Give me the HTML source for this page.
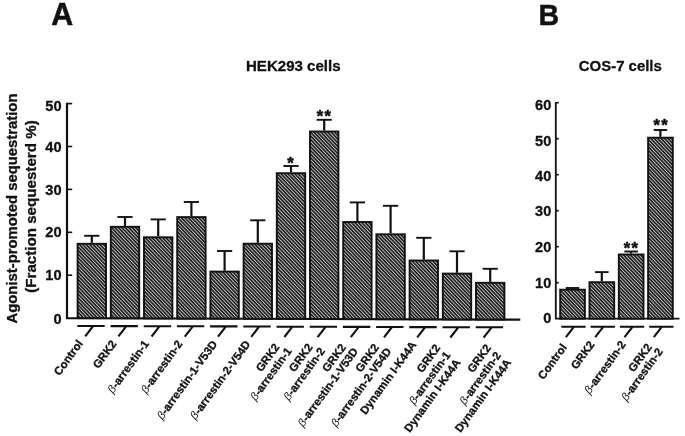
<!DOCTYPE html>
<html><head><meta charset="utf-8"><title>Figure</title>
<style>
html,body{margin:0;padding:0;background:#fff;}
body{width:685px;height:436px;overflow:hidden;}
svg{display:block}
text{font-family:"Liberation Sans",sans-serif;font-weight:bold;fill:#111;}
.t{stroke:#111;stroke-width:0.3px}
.b{font-weight:normal;font-style:italic;stroke:none}
.ax{stroke:#111;fill:none}
</style></head><body>
<svg width="685" height="436" viewBox="0 0 685 436">
<defs>
<pattern id="h" width="2.5" height="2.5" patternUnits="userSpaceOnUse" patternTransform="rotate(46.5)">
<rect width="2.5" height="2.5" fill="#c6c6c6"/><rect width="2.5" height="1.5" fill="#111"/>
</pattern>
</defs>
<rect width="685" height="436" fill="#fff"/>

<text transform="translate(51.2,24.7) scale(1.02,1.07)" font-size="29.8" stroke="#111" stroke-width="0.5">A</text>
<text transform="translate(538.4,25.2) scale(1.0,1.055)" font-size="28.6" stroke="#111" stroke-width="0.4">B</text>
<text class="t" x="246.0" y="70.8" font-size="15.05">HEK293 cells</text>
<text class="t" x="578.8" y="71.1" font-size="14.95">COS-7 cells</text>
<text class="t" transform="translate(17.3,323.5) rotate(-90)" font-size="14.4" textLength="230" lengthAdjust="spacingAndGlyphs">Agonist-promoted sequestration</text>
<text class="t" transform="translate(36.1,292.8) rotate(-90)" font-size="14.4" textLength="172.5" lengthAdjust="spacingAndGlyphs">(Fraction sequesterd %)</text>
<path class="ax" stroke-width="2.2" stroke-linejoin="miter" d="M67 102.80000000000003V318.1L520.3 319.64"/>
<text class="t" x="61.5" y="324.3" font-size="14.6" text-anchor="end">0</text>
<path class="ax" stroke-width="1.6" d="M67 275.2h5.2"/>
<text class="t" x="61.5" y="279.6" font-size="14.6" text-anchor="end">10</text>
<path class="ax" stroke-width="1.6" d="M67 232.3h5.2"/>
<text class="t" x="61.5" y="236.5" font-size="14.6" text-anchor="end">20</text>
<path class="ax" stroke-width="1.6" d="M67 189.4h5.2"/>
<text class="t" x="61.5" y="195.3" font-size="14.6" text-anchor="end">30</text>
<path class="ax" stroke-width="1.6" d="M67 146.5h5.2"/>
<text class="t" x="61.5" y="152.4" font-size="14.6" text-anchor="end">40</text>
<path class="ax" stroke-width="1.6" d="M67 103.6h5.2"/>
<text class="t" x="61.5" y="110.5" font-size="14.6" text-anchor="end">50</text>
<rect x="77.6" y="243.8" width="28.4" height="74.3" fill="url(#h)" stroke="#111" stroke-width="1.9"/>
<path class="ax" stroke-width="2.2" d="M91.8 242.9V235.8"/><path class="ax" stroke-width="1.9" d="M84.2 235.8h15.2"/>
<path class="ax" stroke-width="2.1" d="M77.3 326.0H104.7M93.2 326.0L85.2 336.3"/>
<text class="t" transform="translate(84.0,336.3) rotate(-54)" x="-6.4" y="3.8" font-size="11.35" text-anchor="end">Control</text>
<rect x="110.8" y="226.8" width="28.4" height="91.4" fill="url(#h)" stroke="#111" stroke-width="1.9"/>
<path class="ax" stroke-width="2.2" d="M125.0 225.9V217.0"/><path class="ax" stroke-width="1.9" d="M117.4 217.0h15.2"/>
<path class="ax" stroke-width="2.1" d="M110.5 326.1H137.9M126.4 326.1L118.4 336.4"/>
<text class="t" transform="translate(117.6,336.4) rotate(-54)" x="-6.4" y="3.8" font-size="11.35" text-anchor="end">GRK2</text>
<rect x="144.0" y="237.3" width="28.4" height="81.1" fill="url(#h)" stroke="#111" stroke-width="1.9"/>
<path class="ax" stroke-width="2.2" d="M158.2 236.4V219.4"/><path class="ax" stroke-width="1.9" d="M150.6 219.4h15.2"/>
<path class="ax" stroke-width="2.1" d="M143.7 326.2H171.1M159.6 326.2L151.6 336.5"/>
<text class="t" transform="translate(150.2,336.5) rotate(-54)" x="-6.4" y="3.8" font-size="11.35" text-anchor="end"><tspan class="b">β</tspan>-arrestin-1</text>
<rect x="177.2" y="217.1" width="28.4" height="101.5" fill="url(#h)" stroke="#111" stroke-width="1.9"/>
<path class="ax" stroke-width="2.2" d="M191.4 216.2V202.0"/><path class="ax" stroke-width="1.9" d="M183.8 202.0h15.2"/>
<path class="ax" stroke-width="2.1" d="M176.9 326.3H204.3M192.8 326.3L184.8 336.6"/>
<text class="t" transform="translate(183.6,336.6) rotate(-54)" x="-6.4" y="3.8" font-size="11.35" text-anchor="end"><tspan class="b">β</tspan>-arrestin-2</text>
<rect x="210.4" y="271.6" width="28.4" height="47.0" fill="url(#h)" stroke="#111" stroke-width="1.9"/>
<path class="ax" stroke-width="2.2" d="M224.6 270.8V251.0"/><path class="ax" stroke-width="1.9" d="M217.0 251.0h15.2"/>
<path class="ax" stroke-width="2.1" d="M210.1 326.4H237.5M226.0 326.4L218.0 336.7"/>
<text class="t" transform="translate(218.4,336.7) rotate(-54)" x="-6.4" y="3.8" font-size="11.35" text-anchor="end"><tspan class="b">β</tspan>-arrestin-1-V53D</text>
<rect x="243.6" y="243.7" width="28.4" height="75.1" fill="url(#h)" stroke="#111" stroke-width="1.9"/>
<path class="ax" stroke-width="2.2" d="M257.8 242.8V220.3"/><path class="ax" stroke-width="1.9" d="M250.2 220.3h15.2"/>
<path class="ax" stroke-width="2.1" d="M243.3 326.5H270.7M259.2 326.5L251.2 336.8"/>
<text class="t" transform="translate(251.6,336.8) rotate(-54)" x="-6.4" y="3.8" font-size="11.35" text-anchor="end"><tspan class="b">β</tspan>-arrestin-2-V54D</text>
<rect x="276.8" y="173.2" width="28.4" height="145.6" fill="url(#h)" stroke="#111" stroke-width="1.9"/>
<path class="ax" stroke-width="2.2" d="M291.0 172.3V166.0"/><path class="ax" stroke-width="1.9" d="M283.4 166.0h15.2"/>
<path class="ax" stroke-width="2.1" d="M276.5 326.7H303.9M292.4 326.7L284.4 337.0"/>
<text class="t" transform="translate(284.8,337.0) rotate(-54)" x="-11.0" y="2.0" font-size="11.35" text-anchor="end">GRK2</text>
<text class="t" transform="translate(284.8,337.0) rotate(-54)" x="-7.0" y="14.3" font-size="11.35" text-anchor="end"><tspan class="b">β</tspan>-arrestin-1</text>
<rect x="310.0" y="131.5" width="28.4" height="187.5" fill="url(#h)" stroke="#111" stroke-width="1.9"/>
<path class="ax" stroke-width="2.2" d="M324.2 130.6V119.8"/><path class="ax" stroke-width="1.9" d="M316.6 119.8h15.2"/>
<path class="ax" stroke-width="2.1" d="M309.7 326.8H337.1M325.6 326.8L317.6 337.1"/>
<text class="t" transform="translate(318.0,337.1) rotate(-54)" x="-11.0" y="2.0" font-size="11.35" text-anchor="end">GRK2</text>
<text class="t" transform="translate(318.0,337.1) rotate(-54)" x="-7.0" y="14.3" font-size="11.35" text-anchor="end"><tspan class="b">β</tspan>-arrestin-2</text>
<rect x="343.2" y="222.0" width="28.4" height="97.1" fill="url(#h)" stroke="#111" stroke-width="1.9"/>
<path class="ax" stroke-width="2.2" d="M357.4 221.1V202.4"/><path class="ax" stroke-width="1.9" d="M349.8 202.4h15.2"/>
<path class="ax" stroke-width="2.1" d="M342.9 326.9H370.3M358.8 326.9L350.8 337.2"/>
<text class="t" transform="translate(351.2,337.2) rotate(-54)" x="-11.0" y="2.0" font-size="11.35" text-anchor="end">GRK2</text>
<text class="t" transform="translate(351.2,337.2) rotate(-54)" x="-7.0" y="14.3" font-size="11.35" text-anchor="end"><tspan class="b">β</tspan>-arrestin-1-V53D</text>
<rect x="376.4" y="234.3" width="28.4" height="84.9" fill="url(#h)" stroke="#111" stroke-width="1.9"/>
<path class="ax" stroke-width="2.2" d="M390.6 233.4V205.8"/><path class="ax" stroke-width="1.9" d="M383.0 205.8h15.2"/>
<path class="ax" stroke-width="2.1" d="M376.1 327.0H403.5M392.0 327.0L384.0 337.3"/>
<text class="t" transform="translate(384.4,337.3) rotate(-54)" x="-11.0" y="2.0" font-size="11.35" text-anchor="end">GRK2</text>
<text class="t" transform="translate(384.4,337.3) rotate(-54)" x="-7.0" y="14.3" font-size="11.35" text-anchor="end"><tspan class="b">β</tspan>-arrestin-2-V54D</text>
<rect x="409.6" y="260.5" width="28.4" height="58.8" fill="url(#h)" stroke="#111" stroke-width="1.9"/>
<path class="ax" stroke-width="2.2" d="M423.8 259.6V237.8"/><path class="ax" stroke-width="1.9" d="M416.2 237.8h15.2"/>
<path class="ax" stroke-width="2.1" d="M409.3 327.1H436.7M425.2 327.1L417.2 337.4"/>
<text class="t" transform="translate(417.6,337.4) rotate(-54)" x="-6.4" y="3.8" font-size="11.35" text-anchor="end">Dynamin I-K44A</text>
<rect x="442.8" y="273.6" width="28.4" height="45.8" fill="url(#h)" stroke="#111" stroke-width="1.9"/>
<path class="ax" stroke-width="2.2" d="M457.0 272.8V251.3"/><path class="ax" stroke-width="1.9" d="M449.4 251.3h15.2"/>
<path class="ax" stroke-width="2.1" d="M442.5 327.2H469.9M458.4 327.2L450.4 337.5"/>
<text class="t" transform="translate(450.8,337.5) rotate(-54)" x="-14.3" y="-2.0" font-size="11.35" text-anchor="end">GRK2</text>
<text class="t" transform="translate(450.8,337.5) rotate(-54)" x="-14.3" y="10.5" font-size="11.35" text-anchor="end"><tspan class="b">β</tspan>-arrestin-1</text>
<text class="t" transform="translate(450.8,337.5) rotate(-54)" x="-14.3" y="23.0" font-size="11.35" text-anchor="end">Dynamin I-K44A</text>
<rect x="476.0" y="282.8" width="28.4" height="36.7" fill="url(#h)" stroke="#111" stroke-width="1.9"/>
<path class="ax" stroke-width="2.2" d="M490.2 281.9V268.8"/><path class="ax" stroke-width="1.9" d="M482.6 268.8h15.2"/>
<path class="ax" stroke-width="2.1" d="M475.7 327.3H503.1M491.6 327.3L483.6 337.6"/>
<text class="t" transform="translate(484.0,337.6) rotate(-54)" x="-4.0" y="12.1" font-size="11.35" text-anchor="end">GRK2</text>
<text class="t" transform="translate(484.0,337.6) rotate(-54)" x="-4.0" y="24.6" font-size="11.35" text-anchor="end"><tspan class="b">β</tspan>-arrestin-2</text>
<text class="t" transform="translate(484.0,337.6) rotate(-54)" x="-4.0" y="37.1" font-size="11.35" text-anchor="end">Dynamin I-K44A</text>
<path class="ax" stroke-width="1.8" stroke-linejoin="miter" d="M555.8 101.89999999999999V318.7L679.5 318.70"/>
<text class="t" x="551.3" y="322.9" font-size="14.6" text-anchor="end">0</text>
<path class="ax" stroke-width="1.6" d="M555.8 282.7h3.0"/>
<text class="t" x="551.3" y="288.0" font-size="14.6" text-anchor="end">10</text>
<path class="ax" stroke-width="1.6" d="M555.8 246.7h3.0"/>
<text class="t" x="551.3" y="252.0" font-size="14.6" text-anchor="end">20</text>
<path class="ax" stroke-width="1.6" d="M555.8 210.7h3.0"/>
<text class="t" x="551.3" y="216.4" font-size="14.6" text-anchor="end">30</text>
<path class="ax" stroke-width="1.6" d="M555.8 174.7h3.0"/>
<text class="t" x="551.3" y="181.0" font-size="14.6" text-anchor="end">40</text>
<path class="ax" stroke-width="1.6" d="M555.8 138.7h3.0"/>
<text class="t" x="551.3" y="145.6" font-size="14.6" text-anchor="end">50</text>
<path class="ax" stroke-width="1.6" d="M555.8 102.7h3.0"/>
<text class="t" x="551.3" y="109.9" font-size="14.6" text-anchor="end">60</text>
<rect x="560.2" y="289.7" width="24.7" height="29.0" fill="url(#h)" stroke="#111" stroke-width="1.9"/>
<path class="ax" stroke-width="2.2" d="M572.5 288.8V288.0"/><path class="ax" stroke-width="1.9" d="M565.8 288.0h13.5"/>
<path class="ax" stroke-width="2.1" d="M561.3 326.8H585.6M573.9 326.8L565.9 337.1"/>
<text class="t" transform="translate(568.0,340.1) rotate(-54)" x="-6.4" y="3.8" font-size="11.35" text-anchor="end">Control</text>
<rect x="589.5" y="282.2" width="24.7" height="36.5" fill="url(#h)" stroke="#111" stroke-width="1.9"/>
<path class="ax" stroke-width="2.2" d="M601.8 281.3V272.1"/><path class="ax" stroke-width="1.9" d="M595.1 272.1h13.5"/>
<path class="ax" stroke-width="2.1" d="M590.6 326.8H614.9M603.2 326.8L595.2 337.1"/>
<text class="t" transform="translate(595.6,337.1) rotate(-54)" x="-6.4" y="3.8" font-size="11.35" text-anchor="end">GRK2</text>
<rect x="618.8" y="254.5" width="24.7" height="64.2" fill="url(#h)" stroke="#111" stroke-width="1.9"/>
<path class="ax" stroke-width="2.2" d="M631.1 253.6V251.5"/><path class="ax" stroke-width="1.9" d="M624.4 251.5h13.5"/>
<path class="ax" stroke-width="2.1" d="M619.9 326.8H644.2M632.5 326.8L624.5 337.1"/>
<text class="t" transform="translate(626.9,337.1) rotate(-54)" x="-6.4" y="3.8" font-size="11.35" text-anchor="end"><tspan class="b">β</tspan>-arrestin-2</text>
<rect x="648.1" y="137.7" width="24.7" height="181.0" fill="url(#h)" stroke="#111" stroke-width="1.9"/>
<path class="ax" stroke-width="2.2" d="M660.4 136.8V130.0"/><path class="ax" stroke-width="1.9" d="M653.7 130.0h13.5"/>
<path class="ax" stroke-width="2.1" d="M649.2 326.8H673.5M661.8 326.8L653.8 337.1"/>
<text class="t" transform="translate(657.2,337.1) rotate(-54)" x="-11.0" y="2.0" font-size="11.35" text-anchor="end">GRK2</text>
<text class="t" transform="translate(655.7,337.6) rotate(-54)" x="-7.0" y="14.3" font-size="11.35" text-anchor="end"><tspan class="b">β</tspan>-arrestin-2</text>
<text x="290.5" y="169" font-size="16.5" text-anchor="middle" letter-spacing="0" stroke="#111" stroke-width="0.55" stroke-linejoin="round">*</text>
<text x="324.45" y="121.5" font-size="16.5" text-anchor="middle" letter-spacing="1.3" stroke="#111" stroke-width="0.55" stroke-linejoin="round">**</text>
<text x="631.4499999999999" y="254" font-size="16.5" text-anchor="middle" letter-spacing="1.3" stroke="#111" stroke-width="0.55" stroke-linejoin="round">**</text>
<text x="661.15" y="131" font-size="16.5" text-anchor="middle" letter-spacing="1.3" stroke="#111" stroke-width="0.55" stroke-linejoin="round">**</text>
</svg></body></html>
